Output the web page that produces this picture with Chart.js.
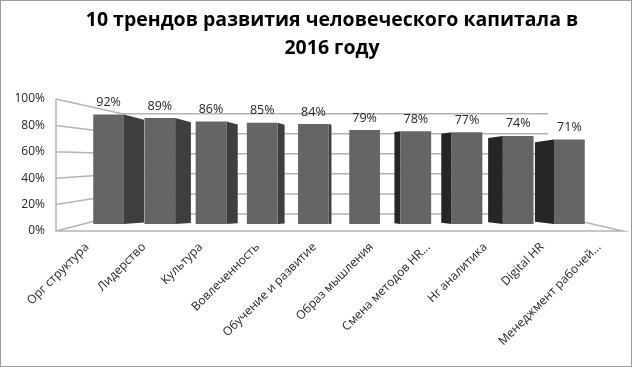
<!DOCTYPE html>
<html>
<head>
<meta charset="utf-8">
<script src="https://cdn.jsdelivr.net/npm/chart.js@4"></script>
<style>
  body { margin: 0; background: #fff; }
  #wrap { width: 632px; height: 367px; }
</style>
</head>
<body>
<div id="wrap"><canvas id="myChart" width="632" height="367"></canvas></div>
<script>
const titleLines = ['10 трендов развития человеческого капитала в', '2016 году'];
const categories = ['Орг структура', 'Лидерство', 'Культура', 'Вовлеченность', 'Обучение и развитие',
    'Образ мышления', 'Смена методов HR...', 'Hr аналитика', 'Digital HR', 'Менеджмент рабочей...'];
const shares = [92, 89, 86, 85, 84, 79, 78, 77, 74, 71];
const yTicks = [0, 20, 40, 60, 80, 100];

const FONT = "'Open Sans', 'DejaVu Sans', sans-serif";

// walls, floor, dark side faces of the boxes, value labels and the title
const perspective = {
    id: 'perspective',
    beforeDraw(chart) {
        const ctx = chart.ctx;
        ctx.save();
        ctx.fillStyle = '#fff';
        ctx.fillRect(0, 0, chart.width, chart.height);
        ctx.restore();
    },
    beforeDatasetsDraw(chart) {
        const { ctx, chartArea: a } = chart;
        const y = chart.scales.y;
        const y0 = y.getPixelForValue(0);
        const back = v => y0 - 17 - (y0 - y.getPixelForValue(v)) * 0.76;
        const fl = a.left - 27, fr = a.right + 28, bl = a.left + 39, br = a.right - 47;

        ctx.save();
        ctx.strokeStyle = '#b4b4b4';
        ctx.lineWidth = 1.5;
        ctx.beginPath();
        yTicks.forEach(v => {
            ctx.moveTo(fl, y.getPixelForValue(v));
            ctx.lineTo(bl, back(v));
            ctx.lineTo(br, back(v));
        });
        ctx.moveTo(fl, y.getPixelForValue(yTicks[yTicks.length - 1]));
        ctx.lineTo(fl, y0);
        ctx.lineTo(fr, y0);
        ctx.lineTo(br, back(0));
        ctx.stroke();

        const vx = (a.left + a.right) / 2 + 6;
        chart.getDatasetMeta(0).data.forEach(bar => {
            const d = (bar.x - vx) * 0.085;
            const w = Math.abs(d);
            if (w < 2) return;
            const half = bar.width / 2;
            ctx.beginPath();
            if (d < 0) {
                const e = bar.x + half;
                ctx.moveTo(e, bar.y);
                ctx.lineTo(e + w, bar.y + w * 0.26);
                ctx.lineTo(e + w, bar.base - w * 0.07);
                ctx.lineTo(e, bar.base);
                ctx.fillStyle = '#3e3e3e';
            } else {
                const e = bar.x - half;
                ctx.moveTo(e, bar.y);
                ctx.lineTo(e - w, bar.y + w * 0.14);
                ctx.lineTo(e - w, bar.base - w * 0.12);
                ctx.lineTo(e, bar.base);
                ctx.fillStyle = '#262626';
            }
            ctx.closePath();
            ctx.fill();
        });
        ctx.restore();
    },
    afterDatasetsDraw(chart) {
        const ctx = chart.ctx;
        ctx.save();
        ctx.font = '12.5px ' + FONT;
        ctx.fillStyle = '#262626';
        ctx.textAlign = 'center';
        ctx.textBaseline = 'middle';
        chart.getDatasetMeta(0).data.forEach((bar, i) => {
            ctx.fillText(shares[i] + '%', bar.x, bar.y - 12);
        });
        ctx.restore();
    },
    afterDraw(chart) {
        const ctx = chart.ctx;
        ctx.save();
        // title sits a little right of the canvas centre, as in the source
        ctx.font = 'bold 19.5px ' + FONT;
        ctx.fillStyle = '#000';
        ctx.textAlign = 'center';
        ctx.textBaseline = 'middle';
        titleLines.forEach((t, i) => ctx.fillText(t, chart.width / 2 + 16, 20 + i * 28));

        ctx.strokeStyle = '#9c9c9c';
        ctx.lineWidth = 1;
        ctx.strokeRect(0.5, 0.5, chart.width - 1, chart.height - 1);
        ctx.restore();
    }
};

const ctx = document.getElementById('myChart').getContext('2d');
const myChart = new Chart(ctx, {
    type: 'bar',
    data: {
        labels: categories,
        datasets: [{
            data: shares,
            xAxisID: 'x',
            yAxisID: 'yb',
            backgroundColor: '#656565',
            barPercentage: 0.6,
            categoryPercentage: 1
        }]
    },
    options: {
        responsive: false,
        animation: false,
        layout: { padding: { left: 0, right: 37, top: 99, bottom: 0 } },
        plugins: {
            legend: { display: false },
            tooltip: { enabled: false },
            title: { display: false }
        },
        scales: {
            x: { display: false, offset: true },
            xl: {
                type: 'category',
                labels: categories,
                position: 'bottom',
                offset: false,
                grid: { display: false },
                border: { display: false },
                ticks: {
                    autoSkip: false,
                    maxRotation: 45,
                    minRotation: 45,
                    padding: 1,
                    labelOffset: 4,
                    color: '#262626',
                    font: { family: FONT, size: 12 }
                },
                afterFit(s) { s.height = 136; }
            },
            yb: { display: false, min: -5.88, max: 105 },
            y: {
                position: 'left',
                min: 0,
                max: 100,
                grid: { display: false, drawTicks: false },
                border: { display: false },
                ticks: {
                    stepSize: 20,
                    padding: 38,
                    color: '#262626',
                    font: { family: FONT, size: 12 },
                    callback: v => v + '%'
                },
                afterFit(s) { s.width = 83; }
            }
        }
    },
    plugins: [perspective]
});
</script>
</body>
</html>
